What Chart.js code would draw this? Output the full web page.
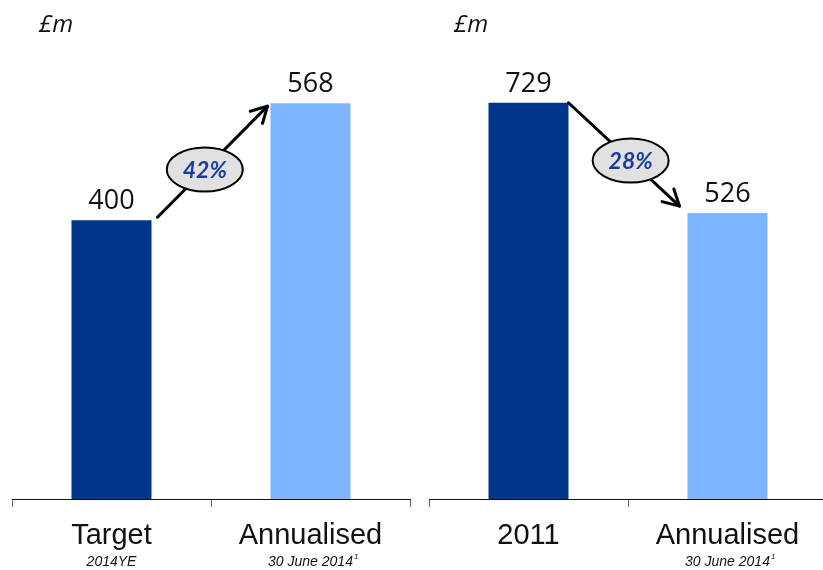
<!DOCTYPE html>
<html>
<head>
<meta charset="utf-8">
<script src="https://cdn.jsdelivr.net/npm/chart.js@4.4.1/dist/chart.umd.min.js"></script>
<style>
  html, body { margin: 0; padding: 0; background: #fff; overflow: hidden; width: 823px; height: 570px; }
  .box { position: absolute; top: 0; height: 570px; }
  #leftBox { left: 0; width: 420px; }
  #rightBox { left: 417px; width: 410px; }
  .unit { position: absolute; top: 6px; font: italic 24px "Open Sans", sans-serif; color: #111; }
</style>
</head>
<body>
<div class="box" id="leftBox"><canvas id="leftChart"></canvas></div>
<div class="box" id="rightBox"><canvas id="rightChart"></canvas></div>
<div class="unit" style="left:39px">£m</div>
<div class="unit" style="left:454px">£m</div>
<script>
// Left panel: target vs annualised
const leftLabels = ['Target', 'Annualised'];
const leftSubLabels = ['2014YE', '30 June 2014'];
const leftValues = [400, 568];
const leftChange = '42%';

// Right panel: 2011 vs annualised
const rightLabels = ['2011', 'Annualised'];
const rightSubLabels = ['', '30 June 2014'];
const rightValues = [729, 526];
const rightChange = '28%';

const darkBlue = '#00378a';
const lightBlue = '#7db4ff';

// draws the value labels, sub labels and the % change arrow
const extrasPlugin = {
    id: 'extras',
    afterDatasetsDraw(chart, args, opts) {
        const ctx = chart.ctx;
        const bars = chart.getDatasetMeta(0).data;
        const values = chart.data.datasets[0].data;
        const xScale = chart.scales.x;

        ctx.save();
        // values above bars
        ctx.fillStyle = '#111';
        ctx.font = '27px "Open Sans", sans-serif';
        ctx.textAlign = 'center';
        ctx.textBaseline = 'bottom';
        bars.forEach((b, i) => {
            ctx.fillText(values[i], b.x, b.y - 5);
        });

        // sub labels under the categories
        ctx.font = 'italic 14px "Liberation Sans", Arial, sans-serif';
        ctx.textBaseline = 'middle';
        opts.subLabels.forEach((s, i) => {
            if (!s) return;
            const x = xScale.getPixelForValue(i);
            ctx.fillText(s, x, 562);
            if (opts.footnote[i]) {
                const w = ctx.measureText(s).width;
                ctx.font = 'italic 8px "Liberation Sans", Arial, sans-serif';
                ctx.textAlign = 'left';
                ctx.fillText('1', x + w / 2 + 1, 557);
                ctx.textAlign = 'center';
                ctx.font = 'italic 14px "Liberation Sans", Arial, sans-serif';
            }
        });

        // arrow between the two bars
        const b0 = bars[0], b1 = bars[1];
        const w0 = b0.width / 2, w1 = b1.width / 2;
        const sx = b0.x + w0 + opts.start[0], sy = b0.y + opts.start[1];
        const ex = b1.x - w1 + opts.end[0], ey = b1.y + opts.end[1];
        ctx.strokeStyle = '#000';
        ctx.lineWidth = 3;
        ctx.lineCap = 'round';
        ctx.lineJoin = 'round';
        ctx.beginPath();
        ctx.moveTo(sx, sy);
        ctx.lineTo(ex, ey);
        ctx.stroke();
        const ang = Math.atan2(ey - sy, ex - sx);
        const head = 18;
        ctx.beginPath();
        ctx.moveTo(ex - head * Math.cos(ang - 0.5), ey - head * Math.sin(ang - 0.5));
        ctx.lineTo(ex, ey);
        ctx.lineTo(ex - head * Math.cos(ang + 0.5), ey - head * Math.sin(ang + 0.5));
        ctx.stroke();

        // ellipse with the % change
        const cx = sx + (ex - sx) * opts.t;
        const cy = sy + (ey - sy) * opts.t;
        ctx.beginPath();
        ctx.ellipse(cx, cy, 38, 22, 0, 0, Math.PI * 2);
        ctx.fillStyle = '#e1e1e1';
        ctx.fill();
        ctx.lineWidth = 2;
        ctx.stroke();
        ctx.fillStyle = '#1b3d99';
        ctx.font = 'bold italic 23px Lato, sans-serif';
        ctx.textBaseline = 'middle';
        ctx.fillText(opts.change, cx, cy + 1);
        ctx.restore();
    }
};

function makeChart(id, labels, values, yMax, extras, padLeft, padRight) {
    return new Chart(document.getElementById(id).getContext('2d'), {
        type: 'bar',
        data: {
            labels: labels,
            datasets: [{
                data: values,
                backgroundColor: [darkBlue, lightBlue],
                barPercentage: 0.402,
                categoryPercentage: 1
            }]
        },
        options: {
            responsive: true,
            maintainAspectRatio: false,
            animation: false,
            layout: { padding: { left: padLeft, right: padRight, top: 0, bottom: 0 } },
            scales: {
                x: {
                    grid: {
                        offset: true,
                        drawOnChartArea: false,
                        drawTicks: true,
                        tickLength: 8,
                        color: '#666',
                        lineWidth: 1
                    },
                    border: { display: true, color: '#111', width: 1 },
                    ticks: {
                        color: '#111',
                        font: { family: '"Liberation Sans", Arial, sans-serif', size: 29 },
                        padding: 12
                    },
                    afterFit: s => { s.height = 71; }
                },
                y: { display: false, min: 0, max: yMax }
            },
            plugins: {
                legend: { display: false },
                tooltip: { enabled: false },
                extras: extras
            }
        },
        plugins: [extrasPlugin]
    });
}

makeChart('leftChart', leftLabels, leftValues, 716, {
    subLabels: leftSubLabels, footnote: [false, true], change: leftChange,
    start: [6, -3], end: [-3, 3], t: 0.43
}, 12, 10);

makeChart('rightChart', rightLabels, rightValues, 918, {
    subLabels: rightSubLabels, footnote: [false, true], change: rightChange,
    start: [0, 0], end: [-8, -7], t: 0.56
}, 12, 0);
</script>
</body>
</html>
